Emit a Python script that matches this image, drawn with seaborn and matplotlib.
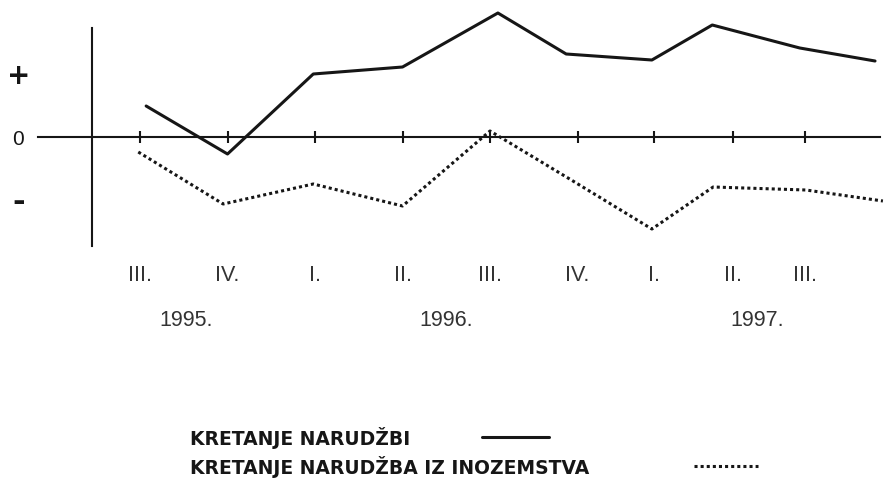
#!/usr/bin/env python3
"""
Kretanje narudzbi 1995.-1997.
Redraws the quarterly trend of orders (total vs. orders from abroad).
"""
import matplotlib
matplotlib.use('Agg')
import matplotlib.pyplot as plt
import pandas as pd
import seaborn as sns

# Quarter positions as drawn on the axis (1 unit = one quarter, 0 = III. 1995.)
quarter_ticks = [0.0, 1.0, 2.0, 3.0, 4.0, 5.0, 5.87, 6.78, 7.6]
quarter_labels = ['III.', 'IV.', 'I.', 'II.', 'III.', 'IV.', 'I.', 'II.', 'III.']
year_ticks = [0.53, 3.5, 7.05]
year_labels = ['1995.', '1996.', '1997.']

# Relative index, 0 = no change
narudzbe_x = [0.07, 1.0, 1.98, 3.0, 4.09, 4.87, 5.85, 6.54, 7.54, 8.4]
narudzbe_y = [3.1, -1.7, 6.3, 7.0, 12.4, 8.3, 7.7, 11.2, 8.9, 7.6]
inozemstvo_x = [-0.02, 0.95, 1.98, 3.0, 4.0, 4.91, 5.85, 6.55, 7.61, 8.49]
inozemstvo_y = [-1.5, -6.7, -4.7, -6.9, 0.6, -4.2, -9.2, -5.0, -5.3, -6.4]

sign_ticks = [6.5, 0, -6.2]
sign_labels = ['+', '0', '-']

label_narudzbe = 'KRETANJE NARUDŽBI'
label_inozemstvo = 'KRETANJE NARUDŽBA IZ INOZEMSTVA'

INK = '#161616'
W, H = 885, 485
NARROW = ['Liberation Sans Narrow', 'Liberation Sans', 'DejaVu Sans']


def build_frame() -> pd.DataFrame:
    """Long-form table for seaborn."""
    return pd.concat([
        pd.DataFrame({'x': narudzbe_x, 'y': narudzbe_y, 'serija': label_narudzbe}),
        pd.DataFrame({'x': inozemstvo_x, 'y': inozemstvo_y, 'serija': label_inozemstvo}),
    ], ignore_index=True)


def main():
    sns.set_theme(style='white')
    plt.rcParams['font.family'] = ['DejaVu Sans']

    df = build_frame()

    fig = plt.figure(figsize=(W / 100, H / 100), dpi=100)
    ax = fig.add_axes([38 / W, 1 - 247 / H, (885 - 38) / W, (247 - 10) / H])

    sns.lineplot(data=df, x='x', y='y', style='serija',
                 dashes={label_narudzbe: '', label_inozemstvo: (1, 1)},
                 color=INK, linewidth=2.2, legend=False, ax=ax)
    ax.set(xlabel='', ylabel='')

    ax.set_xlim(-1.166, 8.514)
    ax.set_ylim(-10.9, 12.8)

    # axes drawn as a cross through zero
    for side in ('top', 'right'):
        ax.spines[side].set_visible(False)
    ax.spines['bottom'].set_position(('data', 0))
    ax.spines['bottom'].set_bounds(-1.166, 8.457)
    ax.spines['left'].set_position(('data', -0.55))
    ax.spines['left'].set_bounds(-10.9, 10.9)
    for side in ('bottom', 'left'):
        ax.spines[side].set_color(INK)
        ax.spines[side].set_linewidth(1.5)

    ax.set_xticks(quarter_ticks, quarter_labels)
    ax.set_xticks(year_ticks, year_labels, minor=True)
    ax.tick_params(axis='x', which='major', bottom=True, direction='inout',
                   length=9, width=1.5, color=INK, pad=87, labelsize=15.5,
                   labelcolor='#333333')
    ax.tick_params(axis='x', which='minor', bottom=True, length=0, pad=124,
                   labelsize=15.5, labelcolor='#333333')
    for t in ax.get_xticklabels() + ax.get_xticklabels(minor=True):
        t.set_family(NARROW)

    ax.set_yticks(sign_ticks, sign_labels)
    ax.tick_params(axis='y', length=0, pad=53, labelcolor=INK)
    plus, zero, minus = ax.get_yticklabels()
    for t in (plus, zero, minus):
        t.set_ha('center')
    plus.set_fontsize(20)
    plus.set_fontweight('bold')
    zero.set_fontsize(15)
    zero.set_family(NARROW)
    minus.set_fontsize(22)
    minus.set_fontweight('bold')

    # legend: text first, line sample after it (one legend per row)
    solid, dotted = ax.lines[0], ax.lines[1]
    legend_font = {'size': 13.5, 'weight': 'bold'}
    fig.legend([solid], [label_narudzbe], loc='center left',
               bbox_to_anchor=(190 / W, 1 - 438 / H), markerfirst=False,
               frameon=False, prop=legend_font, borderpad=0, borderaxespad=0,
               handlelength=3.6, handletextpad=3.8, labelcolor=INK)
    fig.legend([dotted], [label_inozemstvo], loc='center left',
               bbox_to_anchor=(190 / W, 1 - 467 / H), markerfirst=False,
               frameon=False, prop=legend_font, borderpad=0, borderaxespad=0,
               handlelength=3.4, handletextpad=5.6, labelcolor=INK)

    fig.savefig('out.png', dpi=100)
    plt.close(fig)


if __name__ == '__main__':
    main()
